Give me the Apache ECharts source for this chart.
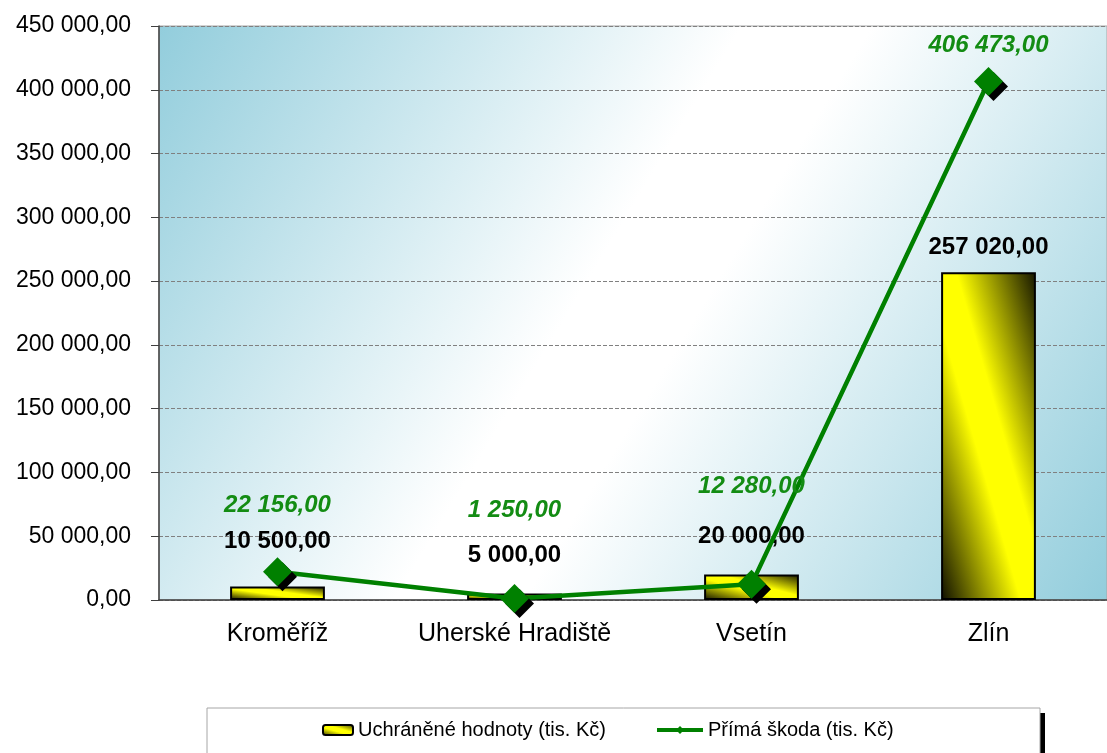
<!DOCTYPE html>
<html lang="cs">
<head>
  <meta charset="UTF-8">
  <title>Uchráněné hodnoty a přímá škoda</title>
  <style>
    body { margin: 0; background: #fff; }
    #chart { width: 1107px; height: 753px; }
  </style>
</head>
<body>
  <div id="chart"></div>
  <script src="https://cdn.jsdelivr.net/npm/echarts@6.0.0/dist/echarts.min.js"></script>
  <script>
    // data
    const okresy = ['Kroměříž', 'Uherské Hradiště', 'Vsetín', 'Zlín']
    const uchraneneHodnoty = [10500, 5000, 20000, 257020]
    const primaSkoda = [22156, 1250, 12280, 406473]
    const yTicks = [0, 50000, 100000, 150000, 200000, 250000, 300000, 350000, 400000, 450000]

    // label gaps (px) above bar tops / line symbols, like in the original
    const barLabelGap = [33, 26, 26, 13]
    const lineLabelGap = [40, 62, 71, 10]

    const fontName = '"Liberation Sans", Arial, sans-serif'
    const barWidthRatio = 0.4

    function fmt(v) {
      const p = Number(v).toFixed(2).split('.')
      return p[0].replace(/\B(?=(\d{3})+(?!\d))/g, ' ') + ',' + p[1]
    }

    // dark - yellow - dark, bands running along the bar's diagonal (like excel's fill)
    function barGradient(w, h) {
      const d = w * w + h * h
      const ax = (h * h) / d, ay = (w * w) / d
      return new echarts.graphic.LinearGradient(0.5 - ax, 0.5 + ay, 0.5 + ax, 0.5 - ay, [
        { offset: 0, color: '#0d0d00' },
        { offset: 0.42, color: '#ffff00' },
        { offset: 0.58, color: '#ffff00' },
        { offset: 1, color: '#141400' }
      ])
    }

    function barData(colors) {
      return uchraneneHodnoty.map((v, i) => {
        const item = { value: v, label: { distance: barLabelGap[i] } }
        if (colors) item.itemStyle = { color: colors[i] }
        return item
      })
    }

    let myChart = echarts.init(document.getElementById('chart'))

    const option = {
      animation: false,
      textStyle: { fontFamily: fontName },
      grid: {
        left: 159, top: 26, bottom: 153, right: -10,
        show: true,
        borderColor: '#a6a6a6',
        borderWidth: 1,
        backgroundColor: new echarts.graphic.LinearGradient(0, 0, 1, 1, [
          { offset: 0, color: '#92cddc' },
          { offset: 0.45, color: '#ffffff' },
          { offset: 0.55, color: '#ffffff' },
          { offset: 1, color: '#92cddc' }
        ])
      },
      legend: [
        {
          data: ['Uchráněné hodnoty (tis. Kč)'],
          left: 322, top: 720, padding: 0,
          itemWidth: 30, itemHeight: 10,
          textStyle: { fontSize: 20, color: '#000', fontFamily: fontName }
        },
        {
          data: ['Přímá škoda (tis. Kč)'],
          left: 655, top: 720, padding: 0,
          itemWidth: 46, itemHeight: 10,
          lineStyle: { width: 4, color: '#008000' },
          itemStyle: { shadowColor: 'transparent' },
          textStyle: { fontSize: 20, color: '#000', fontFamily: fontName }
        }
      ],
      graphic: [
        {
          type: 'rect',
          z: -2,
          shape: { x: 212, y: 713, width: 833, height: 70 },
          style: { fill: '#000' }
        },
        {
          type: 'rect',
          z: -1,
          shape: { x: 207, y: 708, width: 833, height: 70 },
          style: { fill: '#fff', stroke: '#a6a6a6', lineWidth: 1 }
        }
      ],
      xAxis: {
        type: 'category',
        data: okresy,
        axisLine: { lineStyle: { color: '#404040', width: 1.5 } },
        axisTick: { length: 8, lineStyle: { color: '#404040' } },
        axisLabel: { interval: 0, fontSize: 25, color: '#000', margin: 22, fontFamily: fontName }
      },
      yAxis: {
        type: 'value',
        min: yTicks[0],
        max: yTicks[yTicks.length - 1],
        interval: yTicks[1] - yTicks[0],
        axisLine: { show: true, lineStyle: { color: '#404040', width: 1.5 } },
        axisTick: { show: true, length: 8, lineStyle: { color: '#404040' } },
        axisLabel: { fontSize: 23, color: '#000', margin: 28, formatter: fmt, fontFamily: fontName },
        splitLine: { lineStyle: { color: '#808080', type: [4, 2], width: 1 } }
      },
      series: [
        {
          name: 'Uchráněné hodnoty (tis. Kč)',
          type: 'bar',
          barWidth: (barWidthRatio * 100) + '%',
          data: barData(),
          itemStyle: { color: barGradient(30, 10), borderColor: '#000', borderWidth: 2 },
          label: {
            show: true,
            position: 'top',
            formatter: p => fmt(p.value),
            fontSize: 24,
            fontWeight: 'bold',
            color: '#000',
            fontFamily: fontName
          }
        },
        {
          name: 'Přímá škoda (tis. Kč)',
          type: 'line',
          data: primaSkoda.map((v, i) => ({
            value: v,
            label: { distance: lineLabelGap[i] }
          })),
          symbol: 'diamond',
          symbolSize: 29,
          lineStyle: { color: '#008000', width: 4.5 },
          itemStyle: {
            color: '#008000',
            shadowColor: '#000', shadowOffsetX: 5, shadowOffsetY: 5, shadowBlur: 0
          },
          label: {
            show: true,
            position: 'top',
            formatter: p => fmt(p.value),
            fontSize: 24,
            fontWeight: 'bold',
            fontStyle: 'italic',
            color: '#138c13',
            fontFamily: fontName
          }
        }
      ]
    }

    myChart.setOption(option)

    // second pass: bar sizes from the axes, so the fill runs along each bar's diagonal
    const band = Math.abs(myChart.convertToPixel({ xAxisIndex: 0 }, okresy[1]) -
                          myChart.convertToPixel({ xAxisIndex: 0 }, okresy[0]))
    const colors = uchraneneHodnoty.map((v, i) => {
      const top = myChart.convertToPixel({ gridIndex: 0 }, [i, v])
      const base = myChart.convertToPixel({ gridIndex: 0 }, [i, 0])
      return barGradient(band * barWidthRatio, Math.max(1, Math.abs(base[1] - top[1])))
    })
    myChart.setOption({ series: [{ data: barData(colors) }] })
  </script>
</body>
</html>
